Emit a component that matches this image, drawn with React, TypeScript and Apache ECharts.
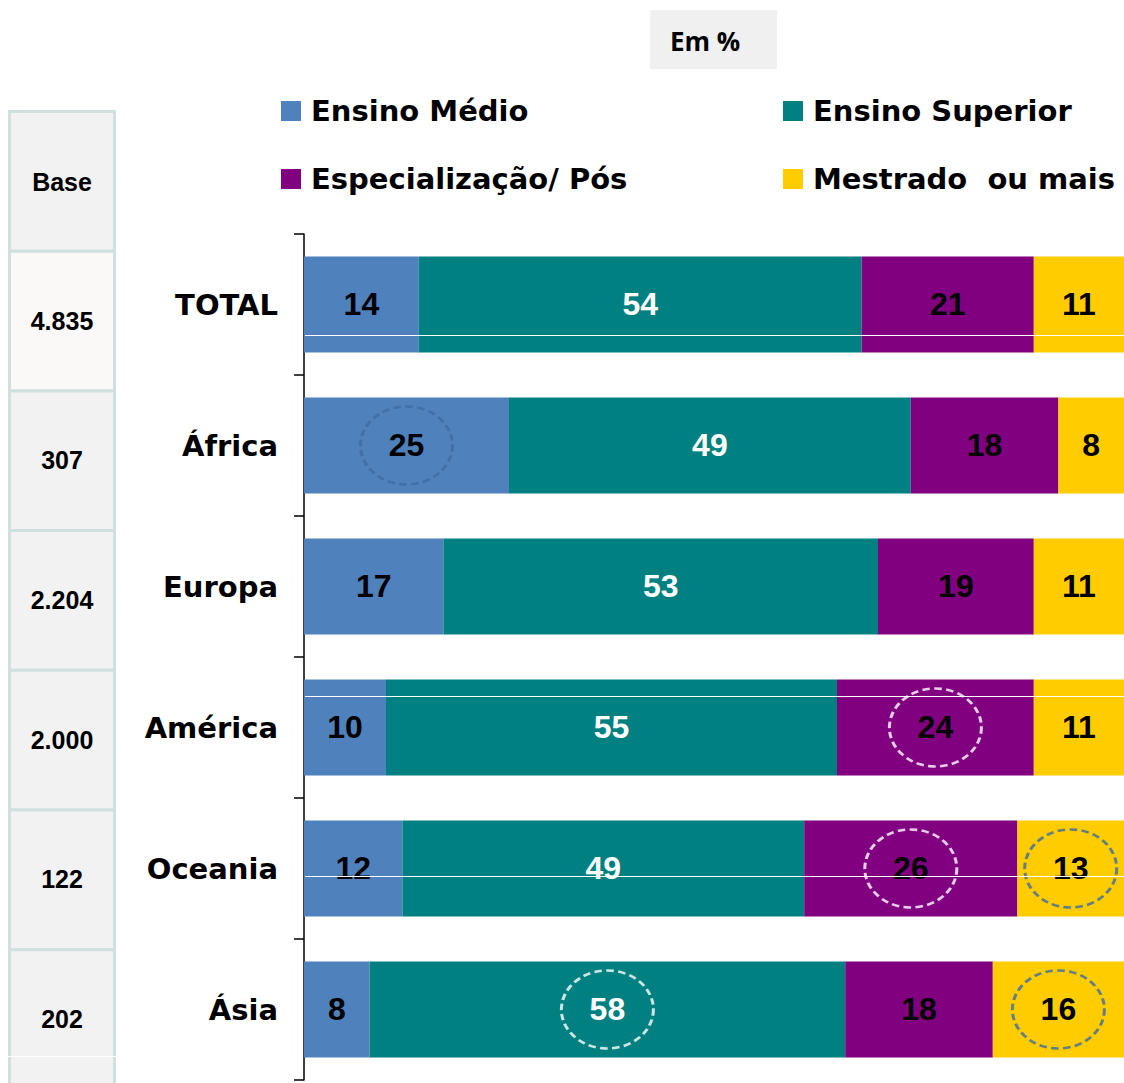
import React, { useEffect, useRef } from "react";
import * as echarts from "echarts";

const categories = ["TOTAL", "África", "Europa", "América", "Oceania", "Ásia"];
const ensinoMedio = [14, 25, 17, 10, 12, 8];
const ensinoSuperior = [54, 49, 53, 55, 49, 58];
const especializacao = [21, 18, 19, 24, 26, 18];
const mestrado = [11, 8, 11, 11, 13, 16];
const baseValues = ["4.835", "307", "2.204", "2.000", "122", "202"];
const seriesNames = ["Ensino Médio", "Ensino Superior", "Especialização/ Pós", "Mestrado  ou mais"];
// highlighted (circled) values: category index, series index, ring colour kind
const highlights = [
  { cat: 1, s: 0, kind: "blue" },
  { cat: 3, s: 2, kind: "white" },
  { cat: 4, s: 2, kind: "white" },
  { cat: 4, s: 3, kind: "blue" },
  { cat: 5, s: 1, kind: "white" },
  { cat: 5, s: 3, kind: "blue" },
];

const COLORS = ["#4f81bd", "#008080", "#800080", "#ffcc00"];
const LABEL_COLORS = ["#000000", "#ffffff", "#000000", "#000000"];
const FONT = "Arial";
const WIDE = "DejaVu Sans";

export default function App() {
  const ref = useRef<HTMLDivElement>(null);
  useEffect(() => {
    if (!ref.current) return;
    const chart = echarts.init(ref.current, null, { renderer: "svg" });
    const allSeries = [ensinoMedio, ensinoSuperior, especializacao, mestrado];

    const ringData = (kind: string) =>
      highlights
        .filter((h) => h.kind === kind)
        .map((h) => {
          let start = 0;
          for (let k = 0; k < h.s; k++) start += allSeries[k][h.cat];
          return [start + allSeries[h.s][h.cat] / 2, categories[h.cat]];
        });

    const barSeries = allSeries.map((d, i) => ({
      name: seriesNames[i],
      type: "bar",
      stack: "total",
      data: d,
      barCategoryGap: "32%",
      itemStyle: { color: COLORS[i] },
      label: {
        show: true,
        position: "inside",
        color: LABEL_COLORS[i],
        fontSize: 32,
        fontWeight: "bold",
        fontFamily: FONT,
        offset: [0, -1],
      },
    }));

    const ringSeries = [
      { kind: "white", color: "#ffffff" },
      { kind: "blue", color: "#3d6ba3" },
    ].map((r) => ({
      name: "ring-" + r.kind,
      type: "scatter",
      silent: true,
      z: 5,
      symbol: "circle",
      symbolSize: [92, 78],
      data: ringData(r.kind),
      itemStyle: {
        color: "rgba(0,0,0,0)",
        borderColor: r.color,
        borderWidth: 2.8,
        borderType: [7, 4],
      },
    }));

    // left "Base" table
    const cellH = 139.7;
    const tableTop = 110;
    const table: any[] = [];
    for (let i = 0; i <= baseValues.length; i++) {
      const y0 = tableTop + i * cellH;
      table.push({
        type: "rect",
        shape: { x: 9.5, y: y0 + 1.5, width: 105, height: i === baseValues.length ? cellH + 10 : cellH },
        style: { fill: i === 1 ? "#faf9f7" : "#f2f2f2", stroke: "#cfe0df", lineWidth: 3 },
        z: 1,
      });
      table.push({
        type: "text",
        x: 62,
        y: y0 + cellH / 2 + (i === 0 ? 2 : 1),
        style: {
          text: i === 0 ? "Base" : baseValues[i - 1],
          fontSize: 25,
          fontWeight: "bold",
          fontFamily: FONT,
          fill: "#000",
          align: "center",
          verticalAlign: "middle",
        },
        z: 2,
      });
    }

    const legendCommon = {
      orient: "vertical",
      top: 91,
      itemWidth: 20,
      itemHeight: 20,
      itemGap: 38,
      icon: "rect",
      selectedMode: false,
      textStyle: {
        fontSize: 29,
        fontWeight: "bold",
        fontFamily: WIDE,
        color: "#000",
        lineHeight: 30,
        padding: [0, 0, 0, 5],
      },
    };

    chart.setOption({
      animation: false,
      backgroundColor: "#ffffff",
      legend: [
        { ...legendCommon, left: 276, data: [seriesNames[0], seriesNames[2]] },
        { ...legendCommon, left: 778, data: [seriesNames[1], seriesNames[3]] },
      ],
      grid: { left: 304, right: 0, top: 234, bottom: 3, containLabel: false },
      xAxis: { type: "value", min: 0, max: 100, show: false },
      yAxis: {
        type: "category",
        data: categories,
        inverse: true,
        axisLine: { show: true, lineStyle: { color: "#000", width: 1.5 } },
        axisTick: { show: true, length: 10, lineStyle: { color: "#000", width: 1.5 } },
        axisLabel: {
          fontSize: 29,
          fontWeight: "bold",
          fontFamily: WIDE,
          color: "#000",
          margin: 26,
        },
      },
      series: [...barSeries, ...ringSeries],
      graphic: [
        {
          type: "rect",
          shape: { x: 650, y: 10, width: 127, height: 59 },
          style: { fill: "#f0f0f0" },
        },
        {
          type: "text",
          x: 670,
          y: 41,
          style: {
            text: "Em %",
            fontSize: 26,
            fontWeight: "bold",
            fontFamily: "Open Sans",
            fill: "#000",
            verticalAlign: "middle",
          },
        },
        ...table,
        { type: "line", shape: { x1: 305, y1: 335.5, x2: 1124, y2: 335.5 }, style: { stroke: "#ffffff", lineWidth: 1 }, z: 10 },
        { type: "line", shape: { x1: 305, y1: 696.5, x2: 1124, y2: 696.5 }, style: { stroke: "#ffffff", lineWidth: 1 }, z: 10 },
        { type: "line", shape: { x1: 305, y1: 876.5, x2: 1124, y2: 876.5 }, style: { stroke: "#ffffff", lineWidth: 1 }, z: 10 },
        { type: "line", shape: { x1: 8, y1: 1056.5, x2: 116, y2: 1056.5 }, style: { stroke: "#ffffff", lineWidth: 1 }, z: 10 },
      ],
    });
    return () => chart.dispose();
  }, []);
  return (
    <div
      ref={ref}
      style={{ position: "absolute", left: 0, top: 0, width: 1124, height: 1083 }}
    />
  );
}
